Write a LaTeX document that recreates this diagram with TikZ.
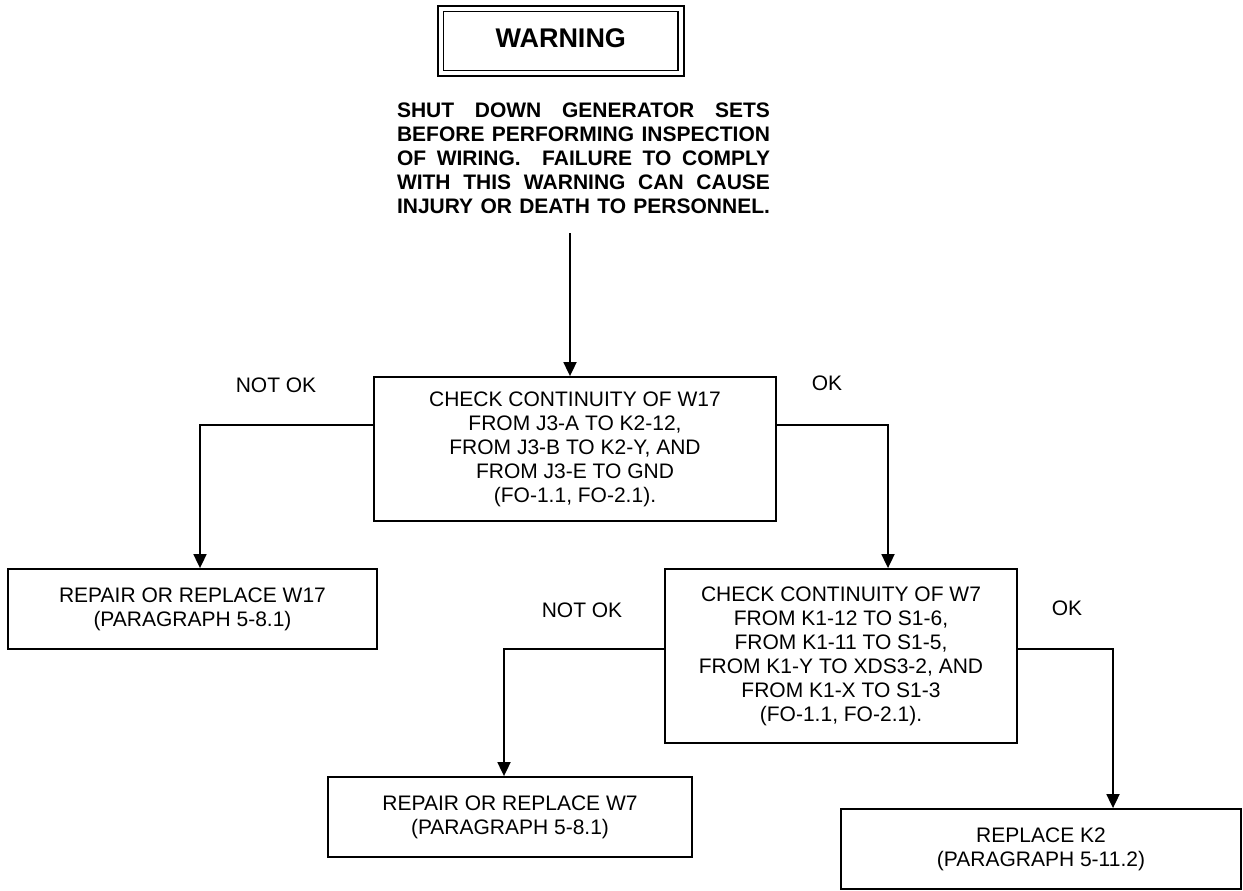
\documentclass[tikz,border=0pt]{standalone}
\usepackage{fontspec}
\setmainfont{Liberation Sans}
\usetikzlibrary{arrows.meta}
\begin{document}
\begin{tikzpicture}[x=1pt,y=-1pt,
  txt/.style={font=\fontsize{21}{24}\selectfont},
  box/.style={draw, line width=1.8pt, inner sep=0pt, align=center, txt},
  arr/.style={line width=1.8pt, -{Triangle[length=14pt,width=13pt]}},
  lbl/.style={inner sep=0pt, txt}]
\useasboundingbox (0,0) rectangle (1243,891);
% warning header
\node[draw, line width=1.6pt, double, double distance=4pt, minimum width=240.5pt, minimum height=64.4pt, inner sep=0pt] (wb) at (560.75,41) {};
\node[inner sep=0pt, font=\bfseries\fontsize{27}{30}\selectfont] (wt) at (560.75,38) {WARNING};
\node[inner sep=0pt, align=left, font=\bfseries\fontsize{21}{24}\selectfont] (wp) at (583.5,158) {%
\makebox[373pt][s]{SHUT DOWN GENERATOR SETS}\\
\makebox[373pt][s]{BEFORE PERFORMING INSPECTION}\\
\makebox[373pt][s]{OF WIRING.\ \ FAILURE TO COMPLY}\\
\makebox[373pt][s]{WITH THIS WARNING CAN CAUSE}\\
\makebox[373pt][s]{INJURY OR DEATH TO PERSONNEL.}};
\coordinate (a0) at (570,233);
% boxes
\node[box, minimum width=402pt, minimum height=144pt] (b1) at (575,449) {CHECK CONTINUITY OF W17\\FROM J3-A TO K2-12,\\FROM J3-B TO K2-Y, AND\\FROM J3-E TO GND\\(FO-1.1, FO-2.1).};
\node[box, minimum width=369pt, minimum height=80pt] (r17) at (192.5,609) {REPAIR OR REPLACE W17\\(PARAGRAPH 5-8.1)};
\node[box, minimum width=352pt, minimum height=174pt] (b2) at (841,656) {CHECK CONTINUITY OF W7\\FROM K1-12 TO S1-6,\\FROM K1-11 TO S1-5,\\FROM K1-Y TO XDS3-2, AND\\FROM K1-X TO S1-3\\(FO-1.1, FO-2.1).};
\node[box, minimum width=364pt, minimum height=80pt] (r7) at (510,817) {REPAIR OR REPLACE W7\\(PARAGRAPH 5-8.1)};
\node[box, minimum width=400pt, minimum height=80pt] (k2) at (1041,849) {REPLACE K2\\(PARAGRAPH 5-11.2)};
% labels
\node[lbl] (n1) at (276,385) {NOT OK};
\node[lbl] (o1) at (827,383) {OK};
\node[lbl] (n2) at (582,610) {NOT OK};
\node[lbl] (o2) at (1067,608) {OK};
% connectors
\draw[arr] (a0) -- (a0 |- b1.north);
\draw[arr] (b1.west |- 0,425) -| ([xshift=7.5pt]r17.north);
\draw[arr] (b1.east |- 0,425) -| ([xshift=47pt]b2.north);
\draw[arr] (b2.west |- 0,649) -| ([xshift=-6pt]r7.north);
\draw[arr] (b2.east |- 0,649) -| ([xshift=72pt]k2.north);
\end{tikzpicture}
\end{document}
